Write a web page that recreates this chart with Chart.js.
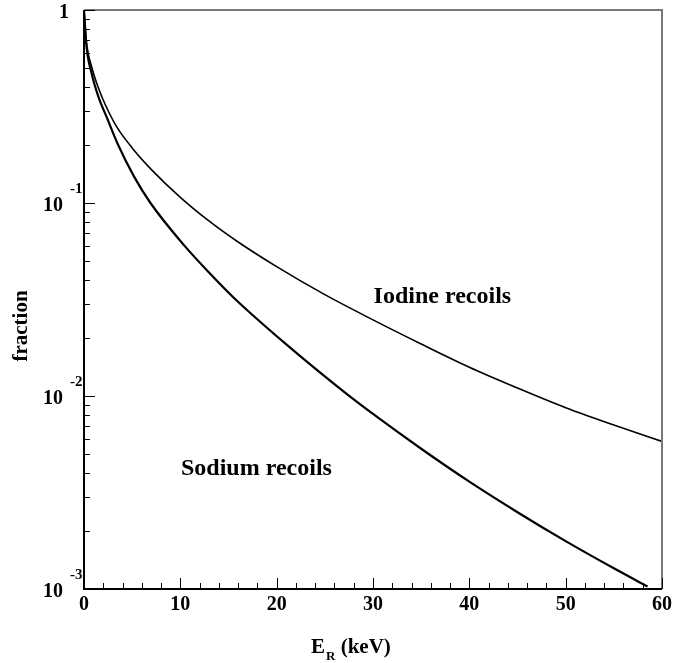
<!DOCTYPE html>
<html>
<head>
<meta charset="utf-8">
<script src="https://cdn.jsdelivr.net/npm/chart.js@4.4.1/dist/chart.umd.min.js"></script>
<style>
  html, body { margin: 0; padding: 0; background: #fff; }
  #wrap { width: 696px; height: 663px; position: relative; }
</style>
</head>
<body>
<div id="wrap"><canvas id="recoilChart" width="696" height="663"></canvas></div>
<script>
// values (E in keV, fraction)
const iodineE    = [0, 0.25, 0.8, 1.5, 2.2, 3.4, 5, 7, 10, 13, 16, 20, 25, 30, 35, 40, 45, 50, 55, 60];
const iodineFrac = [1.0, 0.684, 0.507, 0.394, 0.324, 0.248, 0.193, 0.149, 0.107, 0.0805, 0.0628, 0.0468, 0.0335, 0.0248, 0.0186, 0.0141, 0.011, 0.0087, 0.00708, 0.00582];

const sodiumE    = [0, 0.25, 0.8, 1.5, 2.4, 3.5, 5.2, 6.9, 10.4, 13, 15.6, 21, 27, 30, 35, 40, 45, 50, 55, 58.5];
const sodiumFrac = [1.0, 0.653, 0.468, 0.355, 0.275, 0.202, 0.137, 0.1, 0.0603, 0.0435, 0.0321, 0.0185, 0.0105, 0.00807, 0.00533, 0.0036, 0.0025, 0.00177, 0.00128, 0.00103];

const xTickValues = [0, 10, 20, 30, 40, 50, 60];
const yTickValues = [1, 0.1, 0.01, 0.001];
const yTickExps   = ['', '-1', '-2', '-3'];

const FONT = '"Liberation Serif", "Times New Roman", serif';

const toPoints = (xs, ys) => xs.map((x, i) => ({ x: x, y: ys[i] }));

const decorations = {
  id: 'decorations',
  afterDraw(chart) {
    const ctx = chart.ctx;
    const xs = chart.scales.x, ys = chart.scales.y;
    const a = chart.chartArea;
    ctx.save();

    // frame: top/right grey, left/bottom black
    ctx.lineWidth = 2;
    ctx.strokeStyle = '#777';
    ctx.beginPath();
    ctx.moveTo(a.left, a.top); ctx.lineTo(a.right, a.top); ctx.lineTo(a.right, a.bottom);
    ctx.stroke();
    ctx.strokeStyle = '#000';
    ctx.beginPath();
    ctx.moveTo(a.left, a.top); ctx.lineTo(a.left, a.bottom); ctx.lineTo(a.right, a.bottom);
    ctx.stroke();

    // inward ticks, x
    ctx.lineWidth = 1;
    for (let v = 0; v <= 60; v += 2) {
      const px = Math.round(xs.getPixelForValue(v)) + 0.5;
      const len = v % 10 === 0 ? 11 : 6;
      ctx.beginPath(); ctx.moveTo(px, a.bottom); ctx.lineTo(px, a.bottom - len); ctx.stroke();
    }
    // inward ticks, y (log)
    for (let d = -3; d <= 0; d++) {
      for (let m = 1; m <= 9; m++) {
        const v = m * Math.pow(10, d);
        if (v > 1.0001) break;
        const py = Math.round(ys.getPixelForValue(v)) + 0.5;
        const len = m === 1 ? 11 : 6;
        ctx.beginPath(); ctx.moveTo(a.left, py); ctx.lineTo(a.left + len, py); ctx.stroke();
      }
    }

    ctx.fillStyle = '#000';
    // x tick labels
    ctx.font = 'bold 20px ' + FONT;
    ctx.textAlign = 'center'; ctx.textBaseline = 'middle';
    xTickValues.forEach(v => ctx.fillText(String(v), xs.getPixelForValue(v), a.bottom + 16));

    // y tick labels with exponents
    yTickValues.forEach((v, i) => {
      const py = ys.getPixelForValue(v);
      ctx.font = 'bold 20px ' + FONT;
      ctx.textAlign = 'right'; ctx.textBaseline = 'middle';
      if (!yTickExps[i]) {
        ctx.fillText('1', 69, py + 3);
      } else {
        ctx.fillText('10', 63, py + 3);
        ctx.font = 'bold 15px ' + FONT;
        ctx.textAlign = 'left'; ctx.textBaseline = 'alphabetic';
        ctx.fillText(yTickExps[i], 70, py - 10);
      }
    });

    // axis titles
    ctx.font = 'bold 21px ' + FONT;
    ctx.textAlign = 'left'; ctx.textBaseline = 'alphabetic';
    ctx.fillText('E', 311, 653);
    const ew = ctx.measureText('E').width;
    ctx.font = 'bold 13px ' + FONT;
    ctx.fillText('R', 311 + ew + 1, 660);
    const rw = ctx.measureText('R').width;
    ctx.font = 'bold 21px ' + FONT;
    ctx.fillText(' (keV)', 311 + ew + rw + 1, 653);

    ctx.save();
    ctx.translate(27, 326);
    ctx.rotate(-Math.PI / 2);
    ctx.textAlign = 'center';
    ctx.fillText('fraction', 0, 0);
    ctx.restore();

    // curve labels
    ctx.font = 'bold 24px ' + FONT;
    ctx.textAlign = 'center'; ctx.textBaseline = 'middle';
    ctx.fillText('Iodine recoils', xs.getPixelForValue(37.2), ys.getPixelForValue(0.0325));
    ctx.fillText('Sodium recoils', xs.getPixelForValue(17.9), ys.getPixelForValue(0.0042));

    ctx.restore();
  }
};

new Chart(document.getElementById('recoilChart'), {
  type: 'line',
  data: {
    datasets: [
      {
        label: 'Iodine recoils',
        data: toPoints(iodineE, iodineFrac),
        borderColor: '#000',
        borderWidth: 1.6,
        pointRadius: 0,
        cubicInterpolationMode: 'monotone',
        fill: false
      },
      {
        label: 'Sodium recoils',
        data: toPoints(sodiumE, sodiumFrac),
        borderColor: '#000',
        borderWidth: 2.2,
        pointRadius: 0,
        cubicInterpolationMode: 'monotone',
        fill: false
      }
    ]
  },
  plugins: [decorations],
  options: {
    responsive: false,
    animation: false,
    layout: { padding: { top: 10, right: 34, left: 0, bottom: 0 } },
    plugins: { legend: { display: false }, tooltip: { enabled: false } },
    scales: {
      x: {
        type: 'linear', min: 0, max: 60,
        grid: { display: false }, border: { display: false },
        ticks: { display: false },
        afterFit: s => { s.height = 74; }
      },
      y: {
        type: 'logarithmic', min: 0.001, max: 1,
        grid: { display: false }, border: { display: false },
        ticks: { display: false },
        afterFit: s => { s.width = 84; }
      }
    }
  }
});
</script>
</body>
</html>
